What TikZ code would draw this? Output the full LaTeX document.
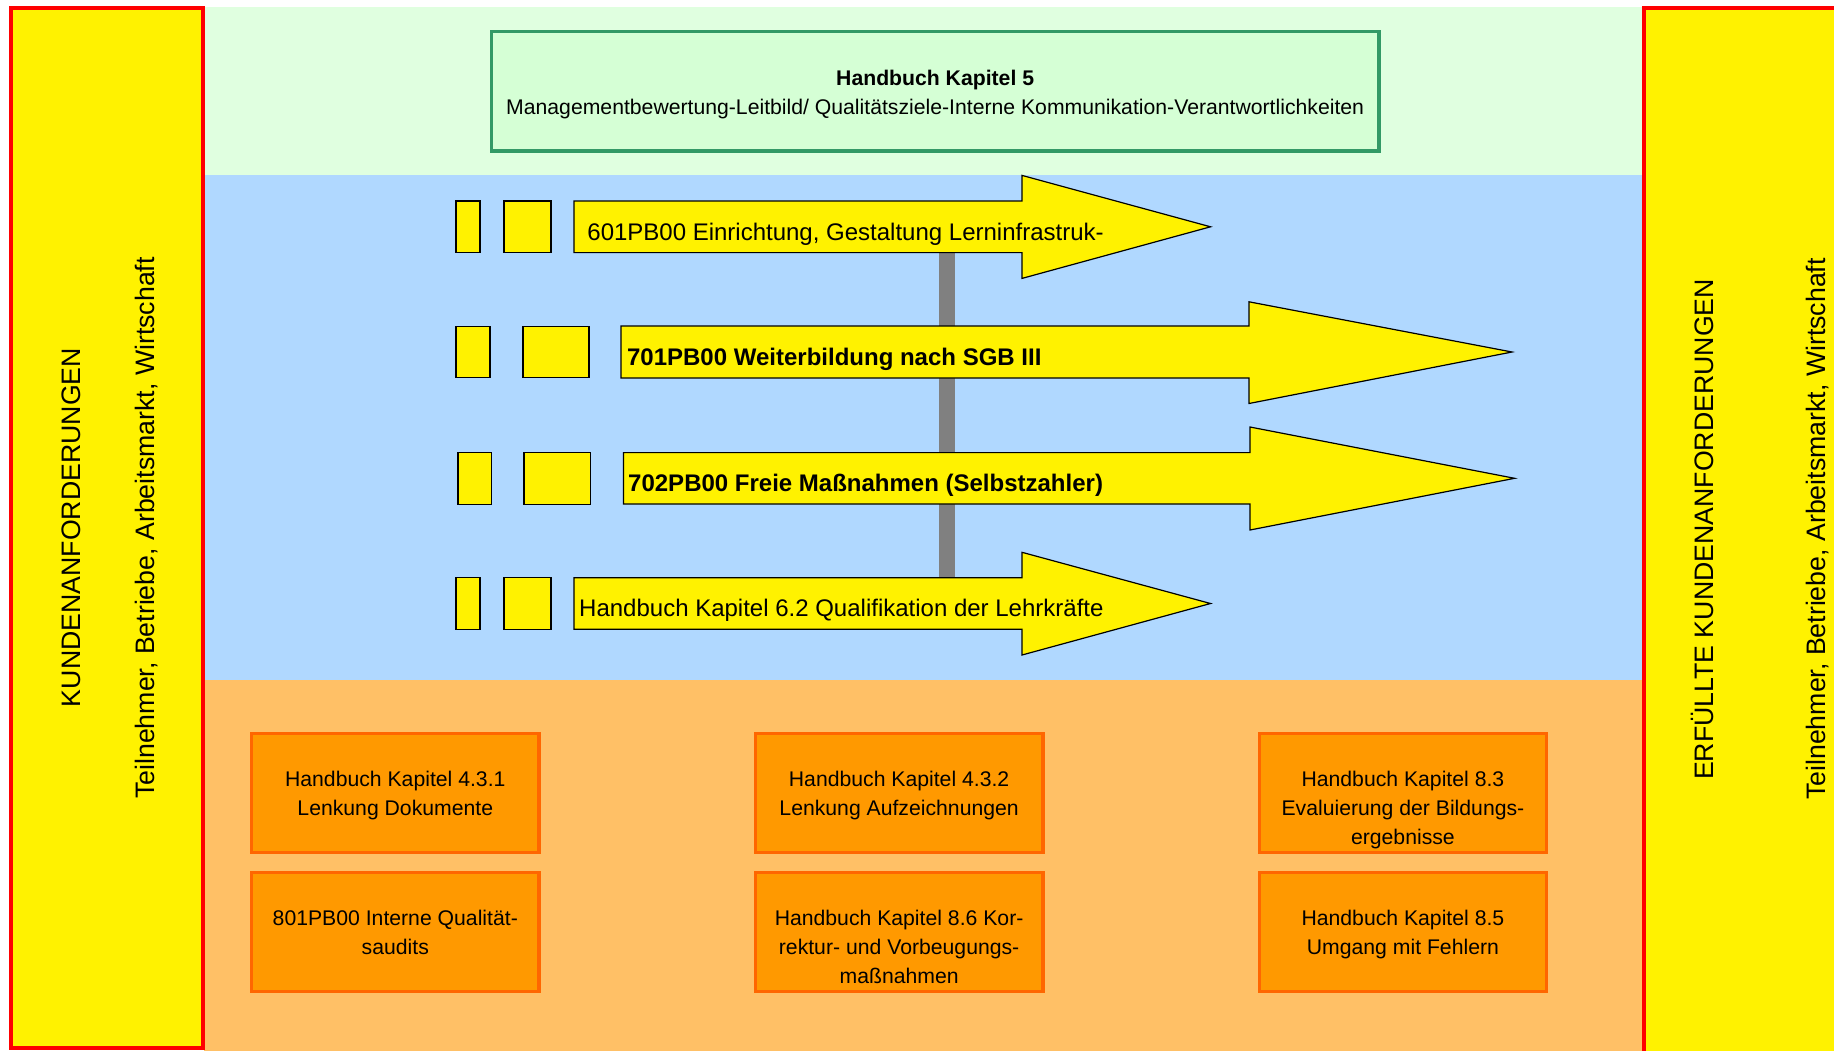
\documentclass[tikz,border=0pt]{standalone}
\usepackage{fontspec}
\setmainfont{Liberation Sans}
\usepackage{tikz}

\definecolor{bandgruen}{HTML}{E0FFE0}
\definecolor{boxgruen}{HTML}{D5FFD5}
\definecolor{randgruen}{HTML}{339966}
\definecolor{bandblau}{HTML}{B0D8FF}
\definecolor{bandorange}{HTML}{FFC066}
\definecolor{boxorange}{HTML}{FF9900}
\definecolor{randorange}{HTML}{FF6600}

\begin{document}
\begin{tikzpicture}[x=0.5pt, y=-0.5pt,
  seite/.style={fill=yellow, draw=red, line width=2pt},
  pfeil/.style={fill=yellow, draw=black, line width=0.6pt},
  klotz/.style={fill=yellow, draw=black, line width=0.6pt, inner sep=0pt, outer sep=0pt, minimum height=25.8pt},
  kasten/.style={fill=boxorange, draw=randorange, line width=1.65pt, inner sep=0pt, outer sep=0pt, minimum width=143.75pt, minimum height=59.7pt},
  kastentext/.style={anchor=north, inner sep=0pt, align=center, font={\fontsize{10.6}{14.4}\selectfont}},
  pfeiltext/.style={anchor=base west, inner sep=0pt, font={\fontsize{12}{14}\selectfont}},
  pfeilfett/.style={pfeiltext, font={\fontsize{12}{14}\selectfont\bfseries}},
  senkrecht/.style={rotate=90, anchor=base, inner sep=0pt, font={\fontsize{13.35}{15}\selectfont}},
  balken/.style={draw=gray, line width=8pt}]
  \useasboundingbox (0,0) rectangle (1834,1050);
  \clip (0,0) rectangle (1834,1050);

  % Hintergrund
  \fill[bandgruen] (204,7) rectangle (1644,175.4);
  \fill[bandblau] (204,175.4) rectangle (1644,679.5);
  \fill[bandorange] (204,679.5) rectangle (1644,1060);

  % Kundenanforderungen
  \draw[seite] (10.8,7.7) rectangle (202.5,1048.3);
  \draw[seite] (1644,7.7) rectangle (1900,1100);
  \node[senkrecht] (kunde) at (80,527.5) {KUNDENANFORDERUNGEN};
  \node[senkrecht] (partner) at (154,528) {Teilnehmer, Betriebe, Arbeitsmarkt, Wirtschaft};
  \node[senkrecht] (erfuellt) at (1713,529.5) {ERFÜLLTE KUNDENANFORDERUNGEN};
  \node[senkrecht] (partnerr) at (1825,529) {Teilnehmer, Betriebe, Arbeitsmarkt, Wirtschaft};

  % Management
  \node[draw=randgruen, fill=boxgruen, line width=1.65pt, outer sep=0pt, minimum width=443.85pt, minimum height=59.65pt] (kap5) at (935.15,91.35) {};
  \node[kastentext] (kap5text) at ([yshift=-18.6pt]kap5.north) {\rule{0pt}{8pt}\textbf{Handbuch Kapitel 5}\\Managementbewertung-Leitbild/ Qualitätsziele-Interne Kommunikation-Verantwortlichkeiten};

  % Balken
  \coordinate (balkenoben) at (947,245);
  \coordinate (balkenunten) at (947,585);
  \draw[balken] (balkenoben) -- (balkenunten);

  % Prozesse
  \node[klotz, minimum width=12pt] (a601) at (468,226.8) {};
  \node[klotz, minimum width=23.5pt] (b601) at (527.5,226.8) {};
  \draw[pfeil] (574,201) -- (1022,201) -- (1022,175.4) -- (1210.5,226.8) -- (1022,278.4) -- (1022,252.6) -- (574,252.6) -- cycle;
  \node[pfeiltext] (p601) at (587,240) {601PB00 Einrichtung, Gestaltung Lerninfrastruk-};

  \node[klotz, minimum width=17pt] (a701) at (473,352) {};
  \node[klotz, minimum width=33pt] (b701) at (556,352) {};
  \draw[pfeil] (621,326) -- (1249,326) -- (1249,301.8) -- (1512,352) -- (1249,403.5) -- (1249,378) -- (621,378) -- cycle;
  \node[pfeilfett] (p701) at (626.7,365.7) {701PB00 Weiterbildung nach SGB III};

  \node[klotz, minimum width=16.75pt] (a702) at (474.7,478.3) {};
  \node[klotz, minimum width=33.25pt] (b702) at (557.2,478.3) {};
  \draw[pfeil] (623.4,452.6) -- (1250,452.6) -- (1250,427) -- (1514.6,478.3) -- (1250,530) -- (1250,504) -- (623.4,504) -- cycle;
  \node[pfeilfett] (p702) at (627.8,491.7) {702PB00 Freie Maßnahmen (Selbstzahler)};

  \node[klotz, minimum width=12pt] (a62) at (468,603.5) {};
  \node[klotz, minimum width=23.5pt] (b62) at (527.5,603.5) {};
  \draw[pfeil] (574,577.8) -- (1022,577.8) -- (1022,552.3) -- (1210.5,603.5) -- (1022,655) -- (1022,629.3) -- (574,629.3) -- cycle;
  \node[pfeiltext] (p62) at (578.8,616.7) {Handbuch Kapitel 6.2 Qualifikation der Lehrkräfte};

  % Unterstuetzende Kapitel
  \node[kasten] (k431) at (395.3,793) {};
  \node[kasten] (k432) at (899.1,793) {};
  \node[kasten] (k83) at (1402.9,793) {};
  \node[kasten] (k801) at (395.3,932) {};
  \node[kasten] (k86) at (899.1,932) {};
  \node[kasten] (k85) at (1402.9,932) {};
  \node[kastentext] (t431) at ([yshift=-18.5pt]k431.north) {\rule{0pt}{8pt}Handbuch Kapitel 4.3.1\\Lenkung Dokumente};
  \node[kastentext] (t432) at ([yshift=-18.5pt]k432.north) {\rule{0pt}{8pt}Handbuch Kapitel 4.3.2\\Lenkung Aufzeichnungen};
  \node[kastentext] (t83) at ([yshift=-18.5pt]k83.north) {\rule{0pt}{8pt}Handbuch Kapitel 8.3\\Evaluierung der Bildungs-\\ergebnisse};
  \node[kastentext] (t801) at ([yshift=-18.5pt]k801.north) {\rule{0pt}{8pt}801PB00 Interne Qualität-\\saudits};
  \node[kastentext] (t86) at ([yshift=-18.5pt]k86.north) {\rule{0pt}{8pt}Handbuch Kapitel 8.6 Kor-\\rektur- und Vorbeugungs-\\maßnahmen};
  \node[kastentext] (t85) at ([yshift=-18.5pt]k85.north) {\rule{0pt}{8pt}Handbuch Kapitel 8.5\\Umgang mit Fehlern};
\end{tikzpicture}
\end{document}
